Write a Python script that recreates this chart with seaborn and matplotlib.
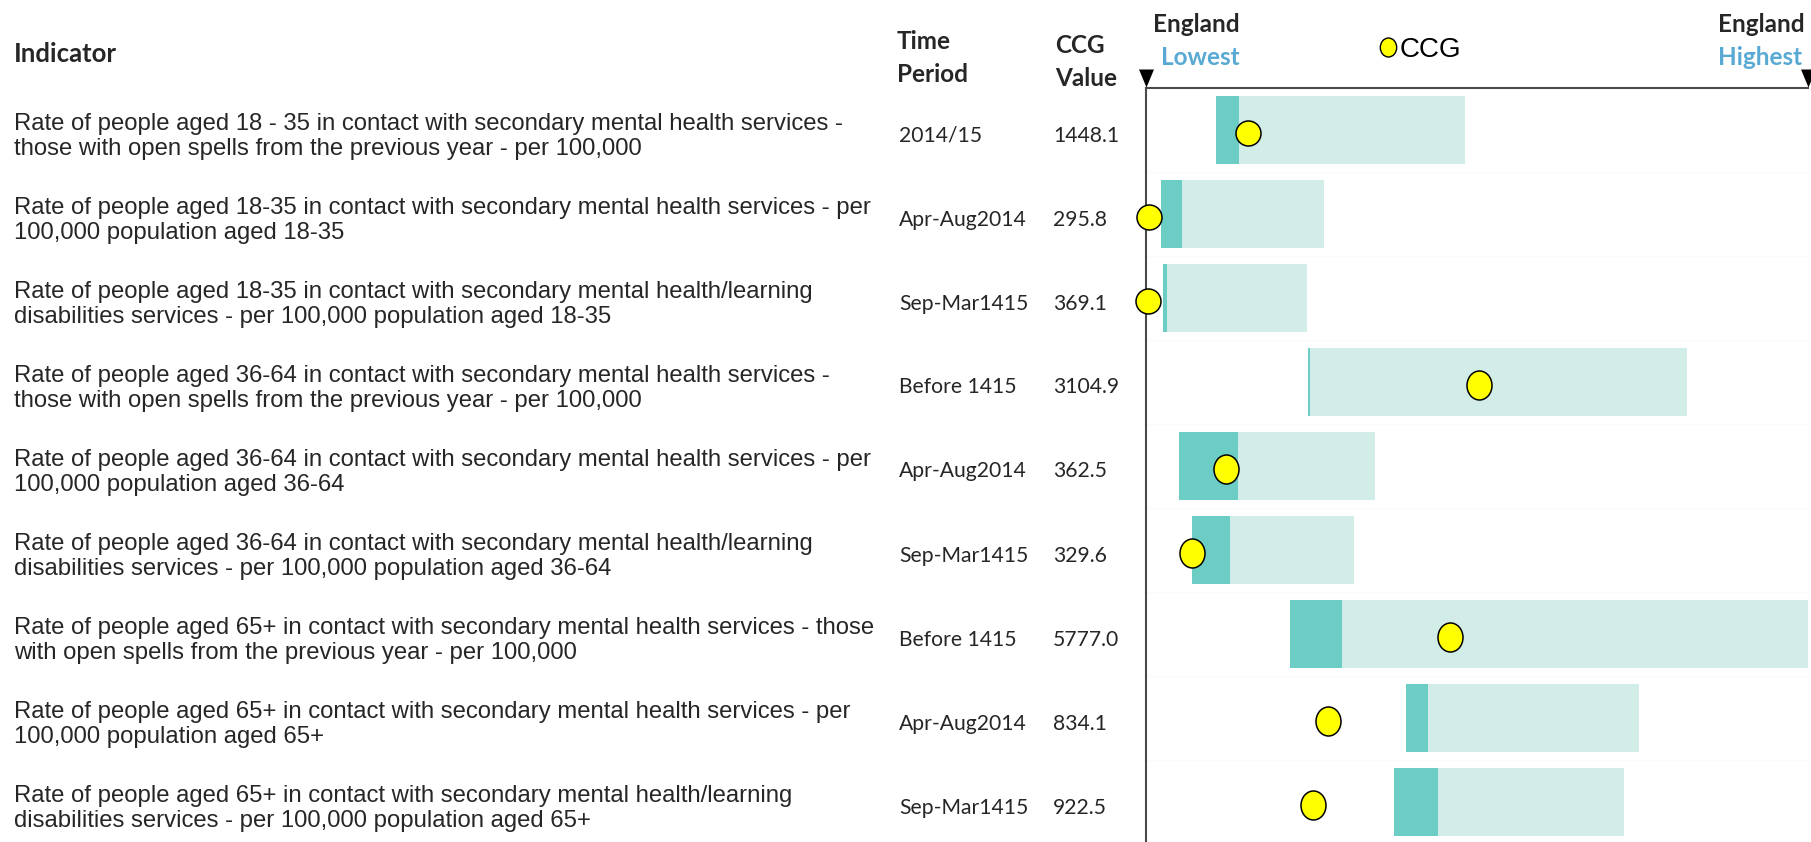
import numpy as np
import pandas as pd
import matplotlib
matplotlib.use("Agg")
import matplotlib.pyplot as plt
from matplotlib.path import Path
import seaborn as sns

# ---- data -------------------------------------------------------------
indicators = [
    "Rate of people aged 18 - 35 in contact with secondary mental health services -\n"
    "those with open spells from the previous year - per 100,000",
    "Rate of people aged 18-35 in contact with secondary mental health services - per\n"
    "100,000 population aged 18-35",
    "Rate of people aged 18-35 in contact with secondary mental health/learning\n"
    "disabilities services - per 100,000 population aged 18-35",
    "Rate of people aged 36-64 in contact with secondary mental health services -\n"
    "those with open spells from the previous year - per 100,000",
    "Rate of people aged 36-64 in contact with secondary mental health services - per\n"
    "100,000 population aged 36-64",
    "Rate of people aged 36-64 in contact with secondary mental health/learning\n"
    "disabilities services - per 100,000 population aged 36-64",
    "Rate of people aged 65+ in contact with secondary mental health services - those\n"
    "with open spells from the previous year - per 100,000",
    "Rate of people aged 65+ in contact with secondary mental health services - per\n"
    "100,000 population aged 65+",
    "Rate of people aged 65+ in contact with secondary mental health/learning\n"
    "disabilities services - per 100,000 population aged 65+",
]
time_periods = ["2014/15", "Apr-Aug2014", "Sep-Mar1415", "Before 1415", "Apr-Aug2014",
                "Sep-Mar1415", "Before 1415", "Apr-Aug2014", "Sep-Mar1415"]
ccg_values = [1448.1, 295.8, 369.1, 3104.9, 362.5, 329.6, 5777.0, 834.1, 922.5]

# positions along the spine: 0 = England lowest, 100 = England highest
band_start = [10.6, 2.4, 2.7, 24.6, 5.1, 7.0, 21.8, 39.3, 37.5]
band_mid = [14.1, 5.5, 3.2, 24.9, 14.0, 12.7, 29.6, 42.6, 44.2]
band_end = [48.2, 26.9, 24.4, 81.7, 34.6, 31.5, 100.0, 74.5, 72.2]
ccg_spine = [15.5, 0.5, 0.4, 50.3, 12.1, 7.0, 45.9, 27.6, 25.3]

# ---- style --------------------------------------------------------------
DARK = "#6bcdc4"
LIGHT = "#d2ece8"
DOT = "#ffff00"
AXIS = "#4a4a4a"
BLUE = "#58a9d3"
BODY_FONT = ["Liberation Sans", "DejaVu Sans"]
HEAD_FONT = ["Lato", "DejaVu Sans"]

sns.set_theme(style="white")
plt.rcParams["font.family"] = BODY_FONT

W, H = 1811, 842
TOP = 88            # pixel row of the spine's top line
ROW0, ROW_STEP = 130, 84

fig = plt.figure(figsize=(W / 100, H / 100), dpi=100, facecolor="white")
ax = fig.add_axes([1145.5 / W, 0, 662.5 / W, (H - TOP) / H])
ax.set_facecolor("white")


def ftext(x, y, s, **kw):
    """Place text using pixel coordinates measured from the top-left."""
    fig.text(x / W, 1 - y / H, s, **kw)


n = len(indicators)
df = pd.DataFrame({
    "row": np.arange(n),
    "start": band_start,
    "mid": band_mid,
    "end": band_end,
    "ccg": ccg_spine,
})
df["dark_w"] = df["mid"] - df["start"]
df["light_w"] = df["end"] - df["mid"]

# faint row separators
for i in range(n - 1):
    ax.axhline(i + 0.5, color="#fafafa", lw=1, zorder=0)

# floating bands
sns.barplot(data=df, x="light_w", y="row", orient="y", native_scale=True,
            left=df["mid"].to_numpy(), color=LIGHT, saturation=1,
            linewidth=0, errorbar=None, ax=ax, zorder=1)
sns.barplot(data=df, x="dark_w", y="row", orient="y", native_scale=True,
            left=df["start"].to_numpy(), color=DARK, saturation=1,
            linewidth=0, errorbar=None, ax=ax, zorder=1)

# CCG markers
ellipse = Path.unit_circle()
ellipse = Path(ellipse.vertices * np.array([1 / 1.16, 1.0]), ellipse.codes)
dy = 0.03
sns.scatterplot(x=df["ccg"][:3], y=df["row"][:3] + dy, marker="o", s=324,
                color=DOT, edgecolor="black", linewidth=1.1, ax=ax,
                zorder=4, clip_on=False, legend=False)
sns.scatterplot(x=df["ccg"][3:], y=df["row"][3:] + dy, marker=ellipse, s=436,
                color=DOT, edgecolor="black", linewidth=1.1, ax=ax,
                zorder=4, clip_on=False, legend=False)

ax.set_xlim(0, 100)
ax.set_ylim((H - ROW0) / ROW_STEP, -(ROW0 - TOP) / ROW_STEP)
ax.set_xticks([])
ax.set_yticks([])
ax.set_xlabel("")
ax.set_ylabel("")
for side in ("right", "bottom"):
    ax.spines[side].set_visible(False)
for side in ("left", "top"):
    ax.spines[side].set_color(AXIS)
    ax.spines[side].set_linewidth(1.5)

# end markers of the spine
tri = Path([(-0.83, 1.0), (0.83, 1.0), (0.0, -1.0), (-0.83, 1.0)],
           [Path.MOVETO, Path.LINETO, Path.LINETO, Path.CLOSEPOLY])
tri_y = -(ROW0 - TOP) / ROW_STEP - (TOP - 78.3) / ROW_STEP
ax.scatter([0, 100], [tri_y, tri_y], marker=tri, s=168, color="black",
           linewidth=0, clip_on=False, zorder=5)

# legend marker
leg_y = -(ROW0 - TOP) / ROW_STEP - (TOP - 46.7) / ROW_STEP
ax.scatter([36.65], [leg_y], marker=ellipse, s=187, color=DOT,
           edgecolor="black", linewidth=1.0, clip_on=False, zorder=5)
ftext(1400, 56.7, "CCG", family=BODY_FONT, fontsize=20, va="baseline",
      color="black")

# headers
HS = 17.5
ftext(14, 62, "Indicator", family=HEAD_FONT, fontweight="bold", fontsize=18.5,
      va="baseline")
ftext(897, 49.3, "Time", family=HEAD_FONT, fontweight="bold", fontsize=HS,
      va="baseline")
ftext(897, 81.7, "Period", family=HEAD_FONT, fontweight="bold", fontsize=HS,
      va="baseline")
ftext(1055, 53.3, "CCG", family=HEAD_FONT, fontweight="bold", fontsize=HS,
      va="baseline")
ftext(1055, 86, "Value", family=HEAD_FONT, fontweight="bold", fontsize=HS,
      va="baseline")
ftext(1240, 31.7, "England", family=HEAD_FONT, fontweight="bold", fontsize=HS,
      va="baseline", ha="right")
ftext(1240, 65, "Lowest", family=HEAD_FONT, fontweight="bold", fontsize=HS,
      va="baseline", ha="right", color=BLUE)
ftext(1718, 31.7, "England", family=HEAD_FONT, fontweight="bold", fontsize=HS,
      va="baseline")
ftext(1718, 65, "Highest", family=HEAD_FONT, fontweight="bold", fontsize=HS,
      va="baseline", color=BLUE)

# table rows
for i in range(n):
    centre = ROW0 + ROW_STEP * i
    line1, line2 = indicators[i].split("\n")
    ftext(14, centre, line1, family=BODY_FONT, fontsize=17.2, va="baseline")
    ftext(14, centre + 25, line2, family=BODY_FONT, fontsize=17.2, va="baseline")
    ftext(899, centre + 11.5, time_periods[i], family=HEAD_FONT, fontsize=15.2,
          va="baseline")
    ftext(1053, centre + 11.5, f"{ccg_values[i]:.1f}", family=HEAD_FONT,
          fontsize=15.2, va="baseline")

fig.savefig("out.png", dpi=100, facecolor="white")
